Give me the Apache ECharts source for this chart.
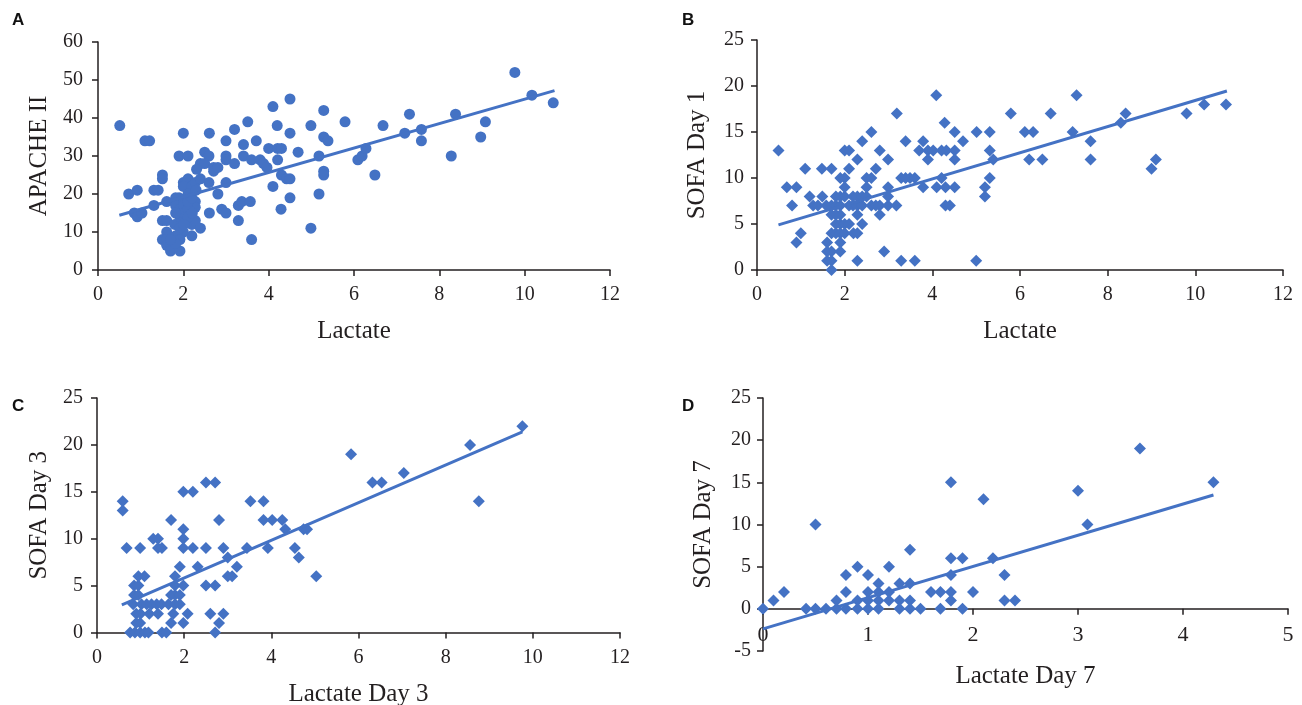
<!DOCTYPE html>
<html>
<head>
<meta charset="utf-8">
<script src="https://cdn.jsdelivr.net/npm/echarts@6/dist/echarts.min.js"></script>
<style>
html,body{margin:0;padding:0;background:#fff;}
#chart{width:1302px;height:705px;}
</style>
</head>
<body>
<div id="chart"></div>
<script>
// ---------- DATA ----------
const panelLabels = ['A', 'B', 'C', 'D'];
const xNames = ['Lactate', 'Lactate', 'Lactate Day 3', 'Lactate Day 7'];
const yNames = ['APACHE II', 'SOFA Day 1', 'SOFA Day 3', 'SOFA Day 7'];

// Panel A: Lactate vs APACHE II
const pointsA = [
  [0.51,38],[0.72,20],[0.92,21],[0.85,15],[0.92,14],[1.03,15],[1.10,34],[1.21,34],[1.31,17],[1.31,21],
  [1.41,21],[1.51,25],[1.51,24],[1.61,18],[1.51,13],[1.61,13],[1.61,10],[1.51,8],[1.61,8],[1.61,6.5],
  [1.70,6],[1.70,5],[1.92,5],[1.80,12],[1.80,18],[1.90,19],[1.90,30],[2.0,36],[2.11,30],[2.0,23],
  [2.11,24],[2.0,22],[2.2,22],[2.28,23],[2.4,24],[2.28,18],[2.28,16.5],[2.2,12],[2.28,13],[2.2,9],
  [2.0,10],[2.4,11],[2.5,31],[2.6,30],[2.4,28],[2.5,28],[2.31,26.5],[2.6,23],[2.61,36],[2.61,15],
  [2.71,27],[2.71,26],[2.81,27],[2.81,20],[2.9,16],[3.0,15],[3.0,34],[3.0,30],[3.0,29],[3.0,23],
  [3.2,37],[3.2,28],[3.29,17],[3.37,18],[3.29,13],[3.41,33],[3.41,30],[3.51,39],[3.57,18],[3.6,8],
  [3.6,29],[3.71,34],[3.8,29],[3.88,28],[3.96,27],[4.0,32],[4.21,32],[4.3,32],[4.1,43],[4.2,38],
  [4.21,29],[4.1,22],[4.3,25],[4.42,24],[4.5,24],[4.29,16],[4.5,45],[4.5,36],[4.5,19],[4.69,31],
  [4.99,38],[5.29,42],[5.29,35],[5.39,34],[5.18,30],[5.29,26],[5.29,25],[5.18,20],[4.99,11],[5.79,39],
  [6.09,29],[6.19,30],[6.28,32],[6.49,25],[6.68,38],[7.19,36],[7.3,41],[7.58,37],[7.58,34],[8.28,30],
  [8.38,41],[8.97,35],[9.08,39],[9.77,52],[10.17,46],[10.67,44],
  [1.82,19],[1.82,17],[1.92,16],[1.92,14],[2.01,18],[2.01,17],[2.01,15],[2.11,16],[2.11,14],[2.21,15],
  [2.11,18],[1.82,15],[1.92,11],[2.01,12],[1.82,9],[1.92,8],[1.82,7],[1.70,8],[2.11,20],[2.2,19],[2.3,21]
];
const trendA = [[0.5,14.4],[10.7,47.2]];

// Panel B: Lactate vs SOFA Day 1
const pointsB = [
  [0.49,13],[0.68,9],[0.9,9],[0.8,7],[1.1,11],[1.2,8],[1.28,7],[1.39,7],[1.48,11],[1.7,11],
  [1.49,8],[1.58,7],[1.7,7],[1.8,7],[1.9,7],[1.7,6],[1.8,6],[1.9,6],[1.8,5],[1.9,5],
  [2.0,5],[2.1,5],[1.7,4],[1.8,4],[1.9,4],[2.0,4],[2.2,4],[1.0,4],[0.9,3],[1.6,3],
  [1.9,3],[1.6,2],[1.7,2],[1.9,2],[1.6,1],[1.7,1],[1.7,0],[1.8,8],[1.9,8],[2.0,8],
  [1.9,10],[2.0,10],[2.0,9],[2.0,13],[2.1,13],[2.1,11],[2.29,12],[2.4,14],[2.61,15],[2.1,7],
  [2.19,7],[2.29,7],[2.4,7],[2.19,8],[2.29,8],[2.4,8],[2.5,8],[2.29,6],[2.29,4],[2.4,5],
  [2.29,1],[2.5,10],[2.61,10],[2.5,9],[2.71,11],[2.8,13],[2.99,12],[2.61,7],[2.71,7],[2.8,7],
  [2.99,7],[3.18,7],[2.8,6],[2.99,9],[2.99,8],[2.9,2],[3.29,1],[3.6,1],[3.39,14],[3.79,14],
  [3.29,10],[3.39,10],[3.49,10],[3.6,10],[3.79,9],[3.7,13],[3.9,13],[4.02,13],[4.21,13],[4.32,13],
  [4.51,13],[3.9,12],[4.51,12],[4.1,9],[4.3,9],[4.51,9],[4.3,7],[4.4,7],[4.21,10],[4.51,15],
  [4.09,19],[3.19,17],[4.28,16],[4.7,14],[5.01,15],[5.31,15],[5.31,13],[5.39,12],[5.31,10],[5.2,9],
  [5.2,8],[5.0,1],[5.79,17],[6.11,15],[6.3,15],[6.21,12],[6.51,12],[6.7,17],[7.29,19],[7.2,15],
  [7.61,14],[7.61,12],[8.3,16],[8.41,17],[9.0,11],[9.1,12],[9.8,17],[10.2,18],[10.7,18]
];
const trendB = [[0.49,4.9],[10.72,19.45]];

// Panel C: Lactate Day 3 vs SOFA Day 3
const pointsC = [
  [0.59,14],[0.59,13],[0.68,9],[0.99,9],[1.7,12],[1.29,10],[1.4,10],[1.4,9],[1.49,9],[1.98,15],
  [2.2,15],[2.5,16],[2.71,16],[2.8,12],[1.98,11],[1.98,10],[1.98,9],[2.2,9],[2.5,9],[2.9,9],
  [3.0,8],[3.21,7],[3.0,6],[3.1,6],[2.31,7],[1.9,7],[1.79,6],[2.5,5],[2.71,5],[1.79,5],
  [1.98,5],[1.7,4],[1.79,4],[1.9,4],[2.08,2],[1.98,1],[2.6,2],[2.9,2],[2.8,1],[2.71,0],
  [1.7,1],[1.49,0],[1.59,0],[0.76,0],[0.87,0],[0.99,0],[1.1,0],[1.18,0],[0.95,6],[1.09,6],
  [0.85,5],[0.95,5],[0.85,4],[0.95,4],[0.83,3],[1.02,3],[1.14,3],[1.25,3],[1.37,3],[1.48,3],
  [1.64,3],[1.79,3],[1.9,3],[0.9,2],[1.0,2],[1.2,2],[1.4,2],[1.75,2],[0.9,1],[0.99,1],
  [3.44,9],[3.52,14],[3.82,14],[3.82,12],[4.02,12],[4.25,12],[3.92,9],[4.32,11],[4.54,9],[4.63,8],
  [4.74,11],[4.82,11],[5.03,6],[5.83,19],[6.32,16],[6.53,16],[7.04,17],[8.56,20],[8.76,14],[9.76,22]
];
const trendC = [[0.57,2.95],[9.76,21.4]];

// Panel D: Lactate Day 7 vs SOFA Day 7
const pointsD = [
  [0,0],[0.1,1],[0.2,2],[0.5,10],[0.41,0],[0.5,0],[0.6,0],[0.7,0],[0.79,0],[0.9,0],
  [1.0,0],[1.1,0],[1.3,0],[1.4,0],[1.5,0],[1.69,0],[1.9,0],[0.7,1],[0.9,1],[1.0,1],
  [1.1,1],[1.2,1],[1.3,1],[1.4,1],[1.79,1],[2.3,1],[2.4,1],[0.79,2],[1.0,2],[1.1,2],
  [1.2,2],[1.6,2],[1.69,2],[1.79,2],[2.0,2],[1.1,3],[1.3,3],[1.4,3],[0.79,4],[0.9,5],
  [1.0,4],[1.2,5],[1.4,7],[1.79,4],[1.79,6],[1.9,6],[2.19,6],[2.3,4],[1.79,15],[2.1,13],
  [3.0,14],[3.09,10],[3.59,19],[4.29,15]
];
const trendD = [[0,-2.37],[4.29,13.5]];

const xRanges = [[0,12,2],[0,12,2],[0,12,2],[0,5,1]];
const yRanges = [[0,60,10],[0,25,5],[0,25,5],[-5,25,5]];

// ---------- LAYOUT / STYLE ----------
const COLOR = '#4472C4';
const AXIS_COLOR = '#231f20';
const SERIF = '"Liberation Serif", "Times New Roman", serif';
const grids = [
  {left: 98, top: 42, width: 512, height: 228},
  {left: 757, top: 40, width: 526, height: 230},
  {left: 97, top: 398, width: 523, height: 234.5},
  {left: 763, top: 398, width: 525, height: 253}
];
const symbols = ['circle', 'diamond', 'diamond', 'diamond'];
const symbolSizes = [11, 12, 12, 12];
const xNameGaps = [49, 49, 49, 55];
const yNameGaps = [46, 47, 45, 47];
const yLabelMargins = [15, 13, 14, 12];
const xLabelFont = [20, 20, 20, 22];
const letterPos = [[12, 12], [682, 12], [12, 398], [682, 398]];

const allPoints = [pointsA, pointsB, pointsC, pointsD];
const allTrends = [trendA, trendB, trendC, trendD];

function axisBase() {
  return {
    axisLine: {show: true, onZero: false, lineStyle: {color: AXIS_COLOR, width: 1.5}},
    axisTick: {show: true, inside: false, length: 6, lineStyle: {color: AXIS_COLOR, width: 1.5}},
    splitLine: {show: false},
    nameTextStyle: {color: AXIS_COLOR, fontFamily: SERIF, fontSize: 25},
    nameLocation: 'middle'
  };
}

// x axis of D sits on y = 0: offset derived from the y range
function zeroOffset(i) {
  const r = yRanges[i];
  if (r[0] >= 0) return 0;
  return -grids[i].height * (0 - r[0]) / (r[1] - r[0]);
}

const option = {
  animation: false,
  backgroundColor: '#fff',
  grid: grids.map(g => Object.assign({containLabel: false, outerBoundsMode: 'none'}, g)),
  xAxis: xRanges.map((r, i) => Object.assign(axisBase(), {
    type: 'value', gridIndex: i, min: r[0], max: r[1], interval: r[2],
    name: xNames[i], nameGap: xNameGaps[i], offset: zeroOffset(i),
    axisLabel: {color: AXIS_COLOR, fontFamily: SERIF, fontSize: xLabelFont[i], margin: 15}
  })),
  yAxis: yRanges.map((r, i) => Object.assign(axisBase(), {
    type: 'value', gridIndex: i, min: r[0], max: r[1], interval: r[2],
    name: yNames[i], nameGap: yNameGaps[i], nameRotate: 90,
    axisLabel: {color: AXIS_COLOR, fontFamily: SERIF, fontSize: 20, margin: yLabelMargins[i]}
  })),
  graphic: panelLabels.map((t, i) => ({
    type: 'text', left: letterPos[i][0], top: letterPos[i][1],
    style: {text: t, fontFamily: '"Liberation Sans", Arial, sans-serif', fontWeight: 'bold', fontSize: 17, fill: '#111'}
  })),
  series: []
};

for (let i = 0; i < 4; i++) {
  option.series.push({
    type: 'scatter', xAxisIndex: i, yAxisIndex: i,
    data: allPoints[i], symbol: symbols[i], symbolSize: symbolSizes[i],
    itemStyle: {color: COLOR, opacity: 1}, z: 2
  });
  option.series.push({
    type: 'line', xAxisIndex: i, yAxisIndex: i,
    data: allTrends[i], symbol: 'none',
    lineStyle: {color: COLOR, width: 3}, z: 3
  });
}

const chart = echarts.init(document.getElementById('chart'), null, {renderer: 'canvas'});
chart.setOption(option);
</script>
</body>
</html>
